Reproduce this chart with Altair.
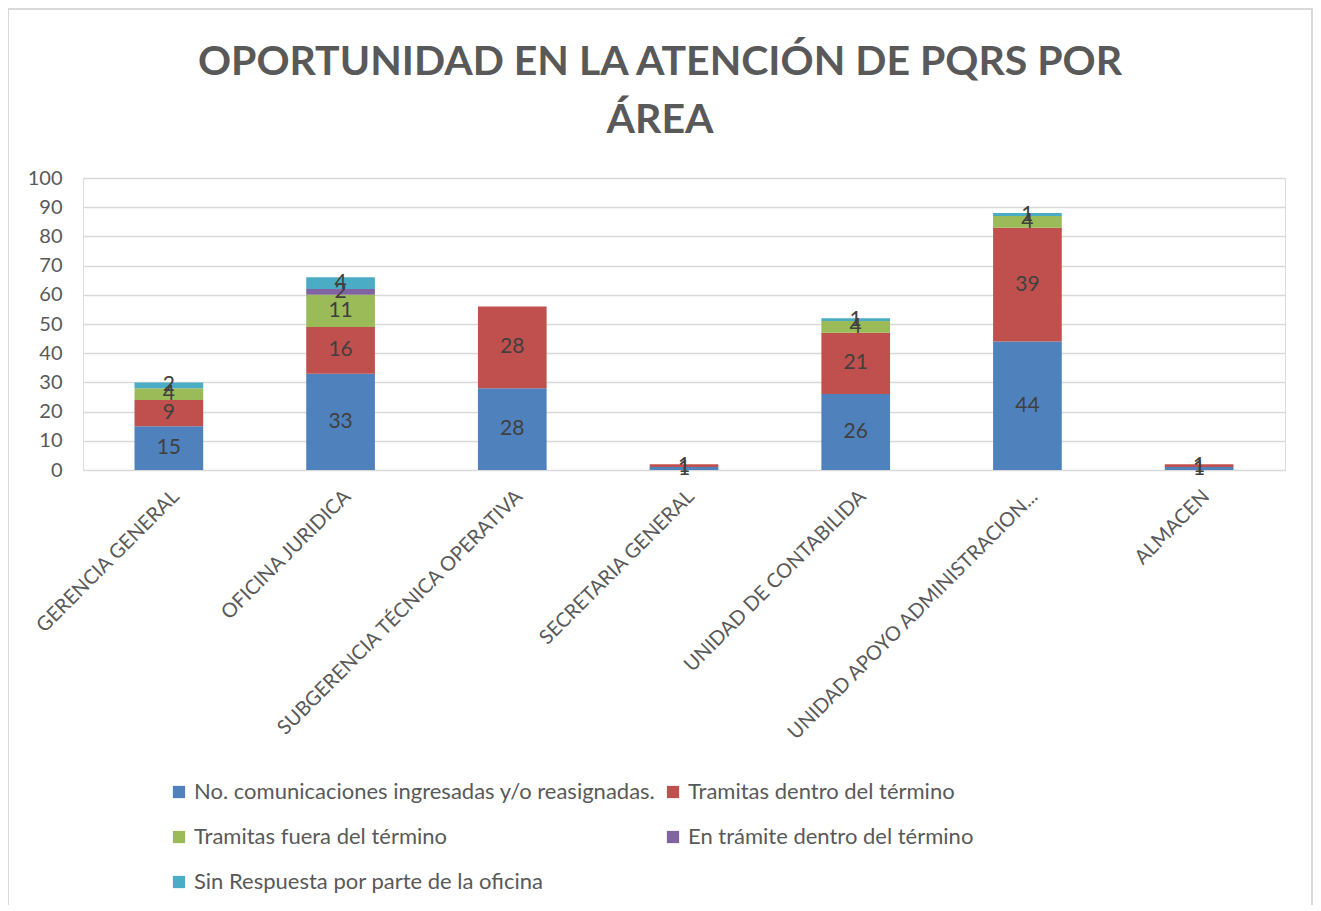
import altair as alt
import pandas as pd

categories = [
    "GERENCIA GENERAL",
    "OFICINA JURIDICA",
    "SUBGERENCIA TÉCNICA OPERATIVA",
    "SECRETARIA GENERAL",
    "UNIDAD DE CONTABILIDA",
    "UNIDAD APOYO ADMINISTRACION...",
    "ALMACEN",
]
series_names = [
    "No. comunicaciones ingresadas y/o reasignadas.",
    "Tramitas dentro del término",
    "Tramitas fuera del término",
    "En trámite dentro del término",
    "Sin Respuesta por parte de la oficina",
]
ingresadas = [15, 33, 28, 1, 26, 44, 1]
dentro = [9, 16, 28, 1, 21, 39, 1]
fuera = [4, 11, 0, 0, 4, 4, 0]
en_tramite = [0, 2, 0, 0, 0, 0, 0]
sin_respuesta = [2, 4, 0, 0, 1, 1, 0]
y_ticks = [0, 10, 20, 30, 40, 50, 60, 70, 80, 90, 100]
colors = ["#4F81BD", "#C0504D", "#9BBB59", "#8064A2", "#4BACC6"]

series_values = [ingresadas, dentro, fuera, en_tramite, sin_respuesta]
rows = []
for si, (name, vals) in enumerate(zip(series_names, series_values)):
    for cat, v in zip(categories, vals):
        rows.append({"area": cat, "serie": name, "orden": si, "valor": v})
df = pd.DataFrame(rows)

FONT = "Lato"
GRAY = "#595959"

base = alt.Chart(df).transform_stack(
    stack="valor", groupby=["area"], as_=["y0", "y1"],
    sort=[alt.SortField("orden", order="ascending")],
).transform_calculate(mid="(datum.y0 + datum.y1) / 2")

xaxis = alt.Axis(labelAngle=-45, labelFontSize=20, labelColor=GRAY, labelFont=FONT,
                 domain=False, ticks=False, labelPadding=16, labelLimit=400)
xscale = alt.Scale(paddingInner=0.6, paddingOuter=0.3)
yaxis = alt.Axis(values=y_ticks, labelFontSize=20, labelColor=GRAY, labelFont=FONT,
                 domain=False, ticks=False, labelOverlap=False,
                 gridColor="#D9D9D9", gridWidth=1.5, labelPadding=21)
yscale = alt.Scale(domain=[0, 100], nice=False)

bars = base.mark_bar().encode(
    x=alt.X("area:N", sort=categories, title=None, scale=xscale, axis=xaxis),
    y=alt.Y("y0:Q", title=None, scale=yscale, axis=yaxis),
    y2="y1:Q",
    color=alt.Color("serie:N", sort=series_names,
                    scale=alt.Scale(domain=series_names, range=colors),
                    legend=alt.Legend(
                        title=None, orient="none", legendX=85, legendY=603,
                        columns=2, direction="horizontal",
                        symbolType="square", symbolSize=150, symbolStrokeWidth=0,
                        labelFontSize=22, labelColor=GRAY, labelFont=FONT,
                        labelLimit=700, rowPadding=23, columnPadding=6,
                        labelOffset=4, symbolOffset=0)),
)

labels = base.transform_filter("datum.valor > 0").mark_text(
    fontSize=21, color="#404040", font=FONT
).encode(
    x=alt.X("area:N", sort=categories, title=None, scale=xscale, axis=xaxis),
    y=alt.Y("mid:Q", title=None, scale=yscale, axis=yaxis),
    text=alt.Text("valor:Q"),
)

border_data = alt.Data(values=[{"k": 1}])
border_left = alt.Chart(border_data).mark_rule(color="#D9D9D9", strokeWidth=2).encode(
    x=alt.value(-75), y=alt.value(-170), y2=alt.value(727))
border_top = alt.Chart(border_data).mark_rule(color="#D9D9D9", strokeWidth=2).encode(
    x=alt.value(-75), x2=alt.value(1229), y=alt.value(-169))
border_right = alt.Chart(border_data).mark_rule(color="#D9D9D9", strokeWidth=2).encode(
    x=alt.value(1229), y=alt.value(-170), y2=alt.value(727))

chart = alt.layer(bars, labels, border_left, border_top, border_right).properties(
    width=1202, height=292,
    title=alt.TitleParams(
        text=["OPORTUNIDAD EN LA ATENCIÓN DE PQRS POR", "ÁREA"],
        fontSize=41, font=FONT, fontWeight="bold", color=GRAY,
        anchor="middle", lineHeight=58, offset=-135, dx=-24,
    ),
    autosize=alt.AutoSizeParams(type="none"),
    padding={"left": 75, "top": 170, "right": 28, "bottom": 435},
).configure_view(stroke=None).configure(background="white")

chart.save("out.html", embed_options={"renderer": "svg", "actions": False})
